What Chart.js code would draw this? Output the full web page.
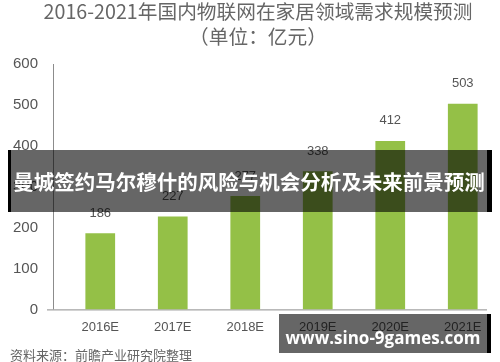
<!DOCTYPE html>
<html>
<head>
<meta charset="utf-8">
<script src="https://cdn.jsdelivr.net/npm/chart.js@4"></script>
<style>
  body { margin: 0; background: #fff; }
  #wrap { position: relative; width: 500px; height: 362px; }
  #title { position: absolute; left: 16px; width: 484px; top: -2px; text-align: center; font: 19.7px "Noto Sans CJK SC"; color: #666; line-height: 25px; white-space: nowrap; }
  #source { position: absolute; left: 10px; top: 346px; font: 13px "Noto Sans CJK SC"; color: #666; line-height: 18px; }
  #banner { position: absolute; left: 8px; top: 150px; width: 476px; height: 62px; background: rgba(0,0,0,0.6);
            border-left: 3px solid #000; border-right: 5px solid #000; color: #fff;
            font: bold 20.5px "Noto Sans CJK SC"; line-height: 62px; text-align: center; white-space: nowrap; }
  #mark { position: absolute; left: 279px; top: 314px; width: 208px; height: 39px; background: rgba(0,0,0,0.6);
          border-right: 4px solid #000; color: #fff; font: bold 17px "Open Sans"; text-align: center; line-height: 20px; }
  #mark span { position: relative; top: 14px; }
</style>
</head>
<body>
<div id="wrap">
  <canvas id="bar" width="500" height="362"></canvas>
  <div id="title">2016-2021年国内物联网在家居领域需求规模预测<br>（单位：亿元）</div>
  <div id="source">资料来源：前瞻产业研究院整理</div>
  <div id="banner">曼城签约马尔穆什的风险与机会分析及未来前景预测</div>
  <div id="mark"><span>www.sino-9games.com</span></div>
</div>
<script>
const years = ['2016E', '2017E', '2018E', '2019E', '2020E', '2021E'];
const demand = [186, 227, 277, 338, 412, 503];
const yTicks = [0, 100, 200, 300, 400, 500, 600];

// axis lines sit a little left of the plot, like the original
const axisLines = {
    id: 'axisLines',
    beforeDatasetsDraw(chart) {
        const { ctx, chartArea } = chart;
        ctx.save();
        ctx.strokeStyle = '#8c8c8c';
        ctx.lineWidth = 1;
        ctx.beginPath();
        ctx.moveTo(chartArea.left - 10.5, chartArea.top);
        ctx.lineTo(chartArea.left - 10.5, chartArea.bottom);
        ctx.moveTo(chartArea.left - 17, chartArea.bottom + 0.5);
        ctx.lineTo(chartArea.right - 12, chartArea.bottom + 0.5);
        ctx.stroke();
        ctx.restore();
    }
};

const valueLabels = {
    id: 'valueLabels',
    afterDatasetsDraw(chart) {
        const { ctx } = chart;
        ctx.save();
        ctx.font = '13px "Liberation Sans", Arial';
        ctx.fillStyle = '#555';
        ctx.textAlign = 'center';
        ctx.textBaseline = 'middle';
        chart.getDatasetMeta(0).data.forEach((bar, i) => {
            ctx.fillText(demand[i], bar.x, bar.y - 20);
        });
        ctx.restore();
    }
};

const BarChart = document.getElementById('bar').getContext('2d');
const myBar = new Chart(BarChart, {
    type: 'bar',
    data: {
        labels: years,
        datasets: [{
            data: demand,
            backgroundColor: '#94c047',
            borderWidth: 0,
            categoryPercentage: 1,
            barPercentage: 0.41
        }]
    },
    options: {
        responsive: false,
        animation: false,
        layout: { padding: { left: 0, right: 1, top: 64, bottom: 17 } },
        scales: {
            x: {
                grid: { display: false, drawTicks: false },
                border: { display: false },
                ticks: { color: '#555', font: { size: 13, family: '"Liberation Sans", Arial' }, padding: 10 }
            },
            y: {
                min: 0,
                max: 600,
                afterBuildTicks: (scale) => { scale.ticks = yTicks.map(v => ({ value: v })); },
                afterFit: (scale) => { scale.width = 64; },
                grid: { display: false, drawTicks: false },
                border: { display: false },
                ticks: { color: '#555', font: { size: 15, family: '"Liberation Sans", Arial' }, padding: 26 }
            }
        },
        plugins: {
            legend: { display: false },
            tooltip: { enabled: false },
            title: { display: false }
        }
    },
    plugins: [axisLines, valueLabels]
});
</script>
</body>
</html>
